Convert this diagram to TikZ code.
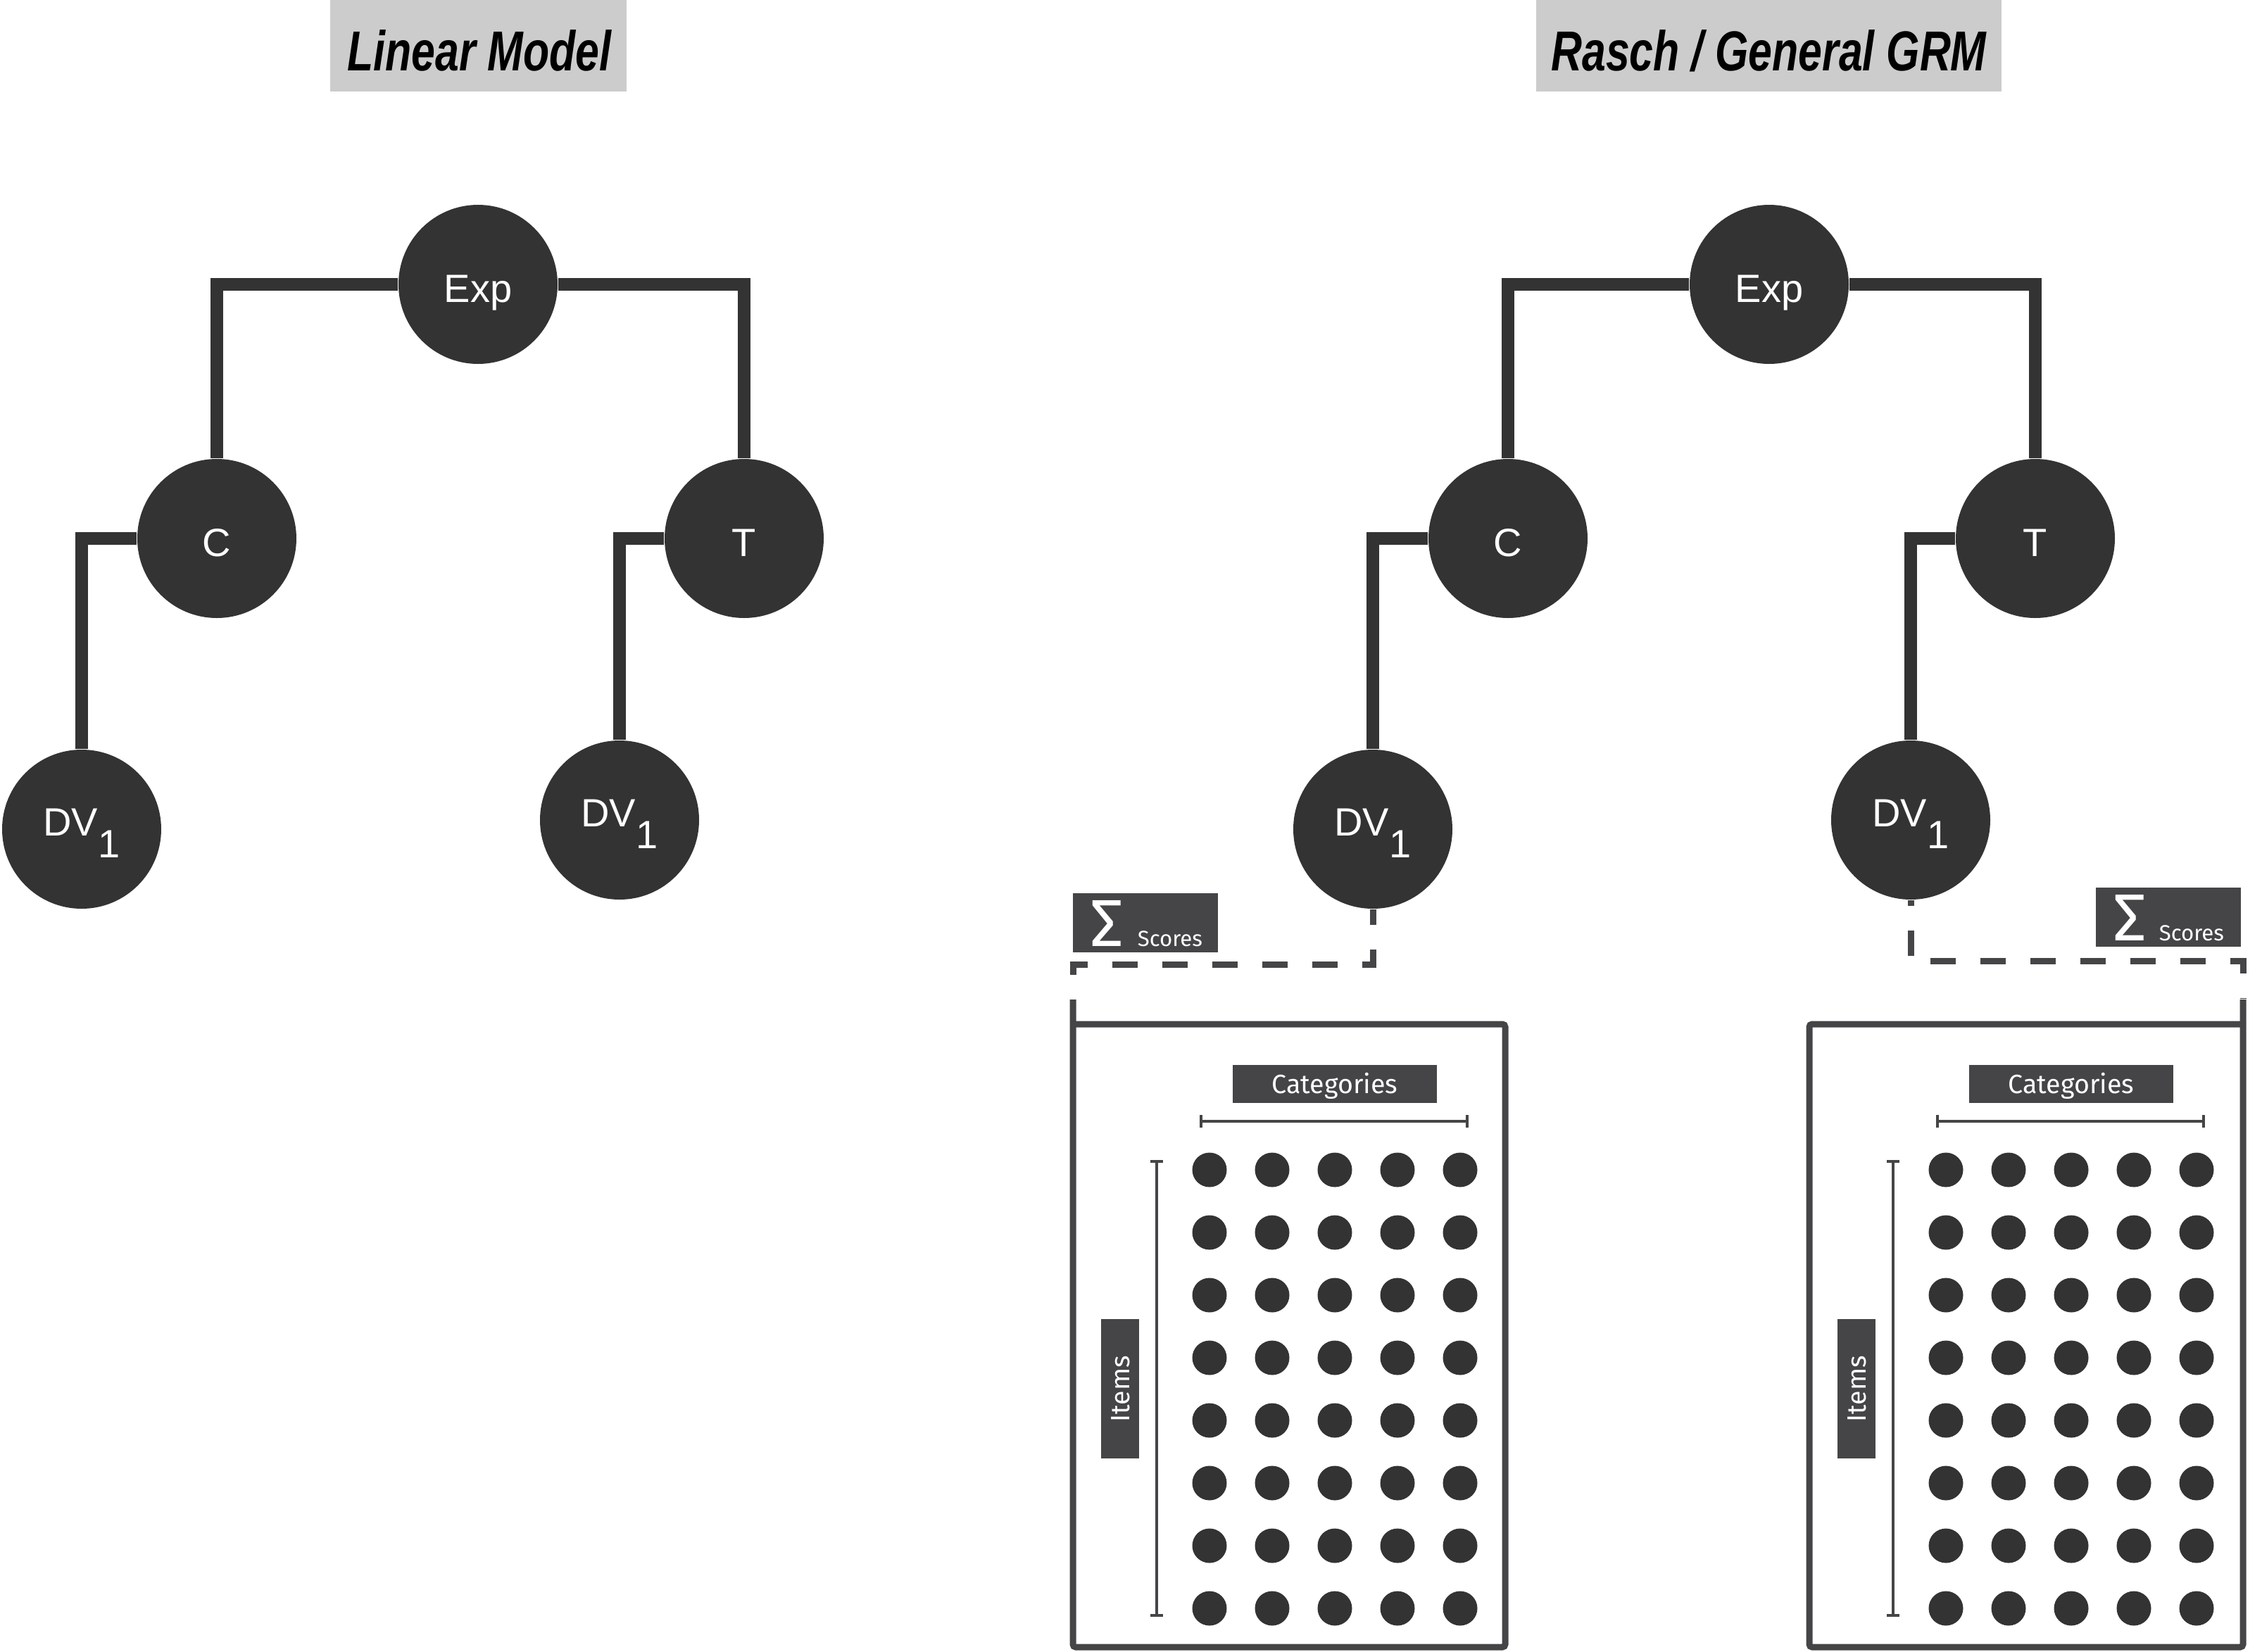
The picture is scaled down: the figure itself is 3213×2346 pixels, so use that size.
\documentclass[tikz,border=0pt]{standalone}
\usepackage{fontspec}
\setmainfont{Liberation Sans}
\newfontfamily\titlefont[FakeStretch=0.76]{Liberation Sans}
\newfontfamily\labelfont{Fira Sans}
\usetikzlibrary{arrows.meta,backgrounds}
\definecolor{dark}{HTML}{333333}
\definecolor{boxgray}{HTML}{454547}
\definecolor{titlegray}{HTML}{CCCCCC}
\begin{document}
\begin{tikzpicture}[x=0.25pt,y=-0.25pt,
  vnode/.style={circle, fill=dark, text=white, minimum size=56.5pt, inner sep=0pt,
    font=\fontsize{14pt}{14pt}\selectfont, text height=12.5pt, text depth=0pt},
  dvnode/.style={vnode, text height=4.5pt},
  treeline/.style={draw=dark, line width=4.5pt},
  titlebox/.style={fill=titlegray, inner sep=0pt, minimum height=32.5pt},
  titletext/.style={font=\titlefont\bfseries\itshape\fontsize{20pt}{20pt}\selectfont, anchor=base, inner sep=0pt},
  labelbox/.style={fill=boxgray, text=white, inner sep=0pt, text height=6.5pt, text depth=0pt,
    font=\labelfont\fontsize{9.4pt}{9.4pt}\selectfont},
  boxline/.style={draw=boxgray, line width=2.25pt, rounded corners=1pt},
  dashline/.style={draw=boxgray, line width=2.25pt, dash pattern=on 9pt off 8.75pt},
  bracket/.style={draw=boxgray, line width=1pt, {Bar[width=4.5pt]}-{Bar[width=4.5pt]}},
  sigtext/.style={anchor=base west, inner sep=0pt, text=white},
]
\useasboundingbox (0,0) rectangle (3213,2346);

% titles
\node[titlebox, minimum width=105.25pt] (tb1) at (679.5,65) {};
\node[titletext] (tt1) at (681,100) {Linear Model};
\node[titlebox, minimum width=165.25pt] (tb2) at (2512.5,65) {};
\node[titletext] (tt2) at (2512.5,100) {Rasch / General GRM};

% trees
\foreach \dx/\s in {0/L,1834/R} {
  \node[vnode] (exp\s) at (679+\dx,404) {Exp};
  \node[vnode] (c\s) at (308+\dx,765) {C};
  \node[vnode] (t\s) at (1057+\dx,765) {T};
  \node[dvnode] (dva\s) at (116+\dx,1178) {DV\raisebox{-7.75pt}{1}};
  \node[dvnode] (dvb\s) at (880+\dx,1165) {DV\raisebox{-7.75pt}{1}};
  \begin{scope}[on background layer]
    \draw[treeline] (exp\s.west) -| (c\s.north);
    \draw[treeline] (exp\s.east) -| (t\s.north);
    \draw[treeline] (c\s.west) -| (dva\s.north);
    \draw[treeline] (t\s.west) -| (dvb\s.north);
  \end{scope}
}

% sum boxes
\node[labelbox, minimum width=51.5pt, minimum height=21pt] (sumL) at (1627,1311) {};
\node[sigtext, font=\labelfont\fontsize{23.6pt}{23.6pt}\selectfont] (sigL) at (1548,1344) {Σ};
\node[sigtext, font=\labelfont\fontsize{7.8pt}{7.8pt}\selectfont] (scL) at (1615,1344) {Scores};
\node[labelbox, minimum width=51.5pt, minimum height=21pt] (sumR) at (3079.5,1303) {};
\node[sigtext, font=\labelfont\fontsize{23.6pt}{23.6pt}\selectfont] (sigR) at (3001,1336) {Σ};
\node[sigtext, font=\labelfont\fontsize{7.8pt}{7.8pt}\selectfont] (scR) at (3066,1336) {Scores};

% dashed links
\coordinate (kL) at (1524,1370);
\coordinate (eL) at (1524,1418);
\draw[dashline, dash phase=3.5pt] (dvaR.south) |- (kL) -- (eL);
\coordinate (kR) at (3186,1365);
\coordinate (eR) at (3186,1418);
\draw[dashline, dash phase=7pt] (dvbR.south) |- (kR) -- (eR);

% item boxes
\draw[boxline] (1524,1420) -- (1524,2340) -- (2138,2340) -- (2138,1455) -- (1524,1455);
\draw[boxline] (3186,1420) -- (3186,2340) -- (2570,2340) -- (2570,1455) -- (3186,1455);

\foreach \L/\s in {1524/L,2570/R} {
  \node[labelbox, minimum width=72.5pt, minimum height=13.5pt] (cat\s) at (\L+372,1540) {Categories};
  \draw[bracket] (\L+180,1593) -- (\L+562,1593);
  \draw[bracket] (\L+119,1648) -- (\L+119,2297);
  \node[labelbox, rotate=90, minimum width=49.5pt, minimum height=13.5pt] (items\s) at (\L+67,1973) {Items};
  \foreach \i in {0,...,4} {
    \foreach \j in {0,...,7} {
      \fill[dark] (\L+194+89*\i,1662+89*\j) circle[radius=6.125pt];
    }
  }
}
\end{tikzpicture}
\end{document}
